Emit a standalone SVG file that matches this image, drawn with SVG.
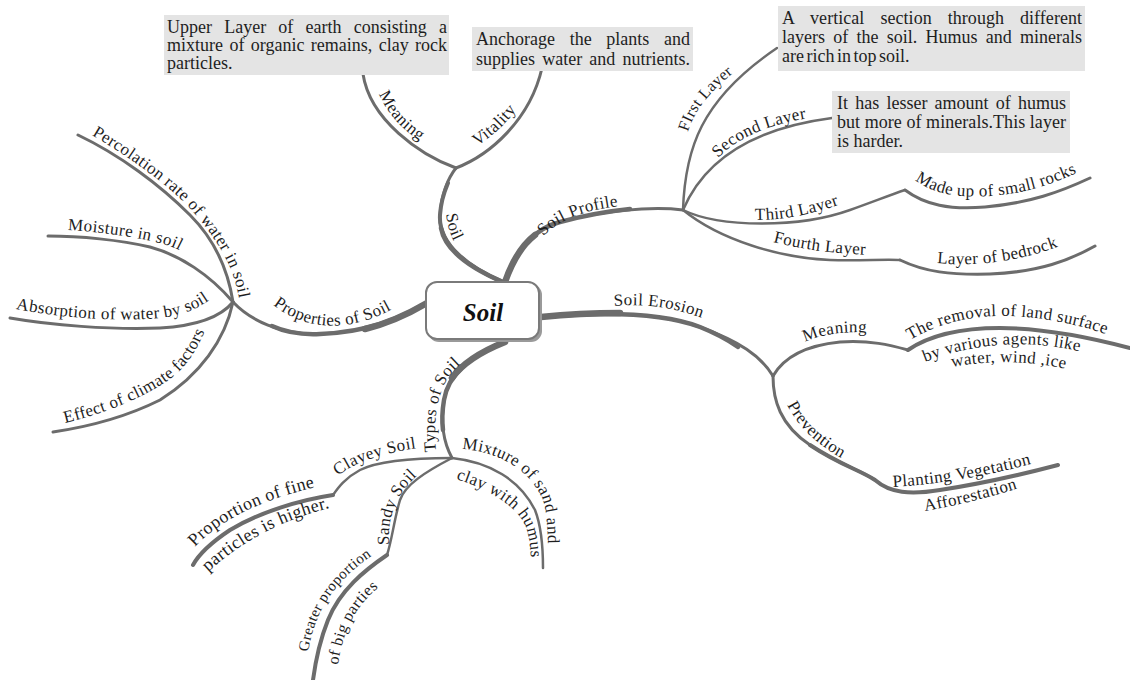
<svg xmlns="http://www.w3.org/2000/svg" width="1130" height="680" viewBox="0 0 1130 680">
<style>
.br{fill:none;stroke:#6c6c6c;stroke-linecap:round;stroke-linejoin:round}
.w7{stroke-width:6.5}.w6{stroke-width:5.5}.w5{stroke-width:4.5}.w4{stroke-width:4}.w3{stroke-width:3}.w2{stroke-width:2.5}
.box{fill:#e4e4e4}
.bt{font-family:"Liberation Serif",serif;font-size:18px;fill:#1e1e1e}
.lb{font-family:"Liberation Serif",serif;font-size:17px;fill:#1e1e1e;letter-spacing:0.4px}
</style>
<defs>
<path id="t-soil" d="M446,214 C448,230 452,242 465,258"/>
<path id="t-meaning1" d="M379,94 C388,115 405,135 442,154"/>
<path id="t-vitality" d="M477,146 C495,135 512,118 528,94"/>
<path id="t-profile" d="M543,236 C565,215 595,207 642,204"/>
<path id="t-first" d="M688,132 C695,108 712,88 750,60"/>
<path id="t-second" d="M718,158 C740,135 775,122 828,115"/>
<path id="t-third" d="M755,220 C790,220 820,212 852,200"/>
<path id="t-rocks" d="M915,180 C935,195 960,198 990,196 C1030,193 1055,183 1088,168"/>
<path id="t-fourth" d="M773,242 Q820,254 878,255"/>
<path id="t-bedrock" d="M937,263 C975,267 1020,262 1068,243"/>
<path id="t-erosion" d="M614,306 C650,303 680,309 710,321"/>
<path id="t-meaning2" d="M805,342 C825,333 850,330 885,334"/>
<path id="t-removal" d="M910,340 C940,322 975,315 1010,316 C1055,318 1090,328 1124,340"/>
<path id="t-agents" d="M925,362 C960,348 1000,342 1040,345 C1060,347 1075,350 1095,355"/>
<path id="t-water" d="M952,367 C990,360 1030,360 1076,371"/>
<path id="t-prevention" d="M787,405 C800,430 820,448 858,467"/>
<path id="t-planting" d="M893,487 C940,484 990,476 1045,460"/>
<path id="t-afforest" d="M925,511 C960,505 995,496 1028,485"/>
<path id="t-properties" d="M273,305 C295,322 320,328 345,325 C365,322 385,315 402,303"/>
<path id="t-perc" d="M92,135 C130,158 175,188 200,220 C220,245 238,272 241,314"/>
<path id="t-moist" d="M68,230 C100,232 140,237 170,246 C178,249 183,252 192,258"/>
<path id="t-absorb" d="M16,309 C60,318 120,322 160,318 C185,315 200,308 218,294"/>
<path id="t-effect" d="M65,423 C110,412 150,395 175,375 C190,362 200,345 210,318"/>
<path id="t-types" d="M436,452 C433,420 437,395 448,378 C452,372 460,364 470,356"/>
<path id="t-clayey" d="M338,476 C355,462 385,452 425,447"/>
<path id="t-fine" d="M195,547 C220,520 260,500 320,486"/>
<path id="t-particles" d="M208,572 C243,540 285,518 338,506"/>
<path id="t-sandy" d="M389,545 C388,520 392,497 422,471"/>
<path id="t-greater" d="M308,652 C315,610 335,580 376,553"/>
<path id="t-big" d="M338,665 C343,630 355,605 384,583"/>
<path id="t-mixture" d="M462,449 C500,452 530,470 543,500 C548,515 548,540 548,565"/>
<path id="t-clay" d="M456,479 C490,490 515,505 525,525 C531,540 531,555 531,574"/>
</defs>

<g id="connectors">
<path class="br w3" d="M503,282 C470,268 438,245 440,215 C441,195 448,178 456,168"/>
<path class="br w4" d="M503,282 C470,268 438,245 440,215 C441,200 445,190 448,183"/>
<path class="br w5" d="M503,282 C470,268 445,250 441,228"/>
<path class="br w3" d="M456,168 C420,155 370,120 363,74"/>
<path class="br w3" d="M456,168 C490,155 530,120 542,68"/>
<path class="br w3" d="M505,282 C515,250 535,228 560,222 C600,211 650,206 683,210"/>
<path class="br w5" d="M505,282 C515,250 535,228 560,222 C590,214 610,211 630,209"/>
<path class="br w7" d="M505,282 C512,262 522,245 535,235"/>
<path class="br w2" d="M683,210 C685,150 700,100 777,48"/>
<path class="br w2" d="M683,210 C700,170 740,130 832,118"/>
<path class="br w2" d="M683,210 C720,228 800,228 850,210 C870,203 890,195 905,190"/>
<path class="br w3" d="M905,190 C925,205 950,210 985,207 C1030,203 1060,192 1090,178"/>
<path class="br w2" d="M683,210 C720,240 780,258 830,260 C860,261 885,259 900,260"/>
<path class="br w3" d="M900,260 C925,272 950,275 990,274 C1040,272 1070,260 1095,246"/>
<path class="br w3" d="M541,317 C600,312 660,312 700,327 C740,342 760,355 773,376"/>
<path class="br w5" d="M541,317 C600,312 660,312 700,327 C715,333 728,340 738,347"/>
<path class="br w7" d="M541,317 C570,314 595,313 620,313"/>
<path class="br w3" d="M773,376 C785,355 810,345 840,342 C870,340 890,345 908,350"/>
<path class="br w4" d="M908,350 C930,335 960,328 1000,328 C1050,328 1100,340 1130,348"/>
<path class="br w3" d="M773,376 C773,400 780,425 810,445 C840,465 860,470 875,480"/>
<path class="br w4" d="M810,445 C840,465 860,470 875,480 C890,493 910,495 940,490 C980,484 1020,475 1058,465"/>
<path class="br w3" d="M427,303 C400,318 370,332 320,334 C280,335 250,320 233,302"/>
<path class="br w5" d="M427,303 C400,318 370,332 320,334 C300,335 285,332 272,326"/>
<path class="br w7" d="M427,303 C410,313 390,323 365,329"/>
<path class="br w3" d="M233,302 C228,270 215,240 190,215 C160,185 120,155 78,135"/>
<path class="br w3" d="M233,302 C210,275 180,255 150,247 C120,240 80,236 48,236"/>
<path class="br w3" d="M233,302 C220,318 195,326 160,328 C110,330 50,325 10,318"/>
<path class="br w3" d="M233,302 C225,340 200,375 160,400 C120,420 80,428 53,432"/>
<path class="br w3" d="M505,342 C470,355 448,375 444,400 C440,425 445,445 452,458"/>
<path class="br w5" d="M505,342 C470,355 448,375 444,400 C442,412 442,422 443,430"/>
<path class="br w7" d="M505,342 C480,352 462,364 452,378"/>
<path class="br w2" d="M452,458 C420,458 380,460 360,470 C345,478 338,488 333,495"/>
<path class="br w4" d="M333,495 C300,500 260,512 230,530 C215,540 200,552 193,565"/>
<path class="br w2" d="M452,458 C425,472 405,485 400,500 C394,520 392,540 387,555"/>
<path class="br w4" d="M387,555 C365,570 340,590 328,620 C318,645 315,665 313,680"/>
<path class="br w2" d="M452,458 C490,462 520,480 535,510 C542,528 543,550 543,568"/>
</g>

<g id="node-soil-center">
<rect x="428" y="284" width="114" height="58" rx="11" fill="#9a9a9a"/>
<rect x="426" y="282" width="113" height="57" rx="11" fill="#fff" stroke="#7a7a7a" stroke-width="2"/>
<text x="483" y="321" text-anchor="middle" font-family="Liberation Serif, serif" font-size="25" font-weight="bold" font-style="italic" fill="#111">Soil</text>
</g>

<g id="node-box-meaning">
<rect class="box" x="164" y="15" width="285" height="60"/>
<text class="bt" x="167" y="33" word-spacing="7.7" textLength="280" lengthAdjust="spacing">Upper Layer of earth consisting a</text>
<text class="bt" x="167" y="51" word-spacing="1.8" textLength="280" lengthAdjust="spacing">mixture of organic remains, clay rock</text>
<text class="bt" x="167" y="69">particles.</text>
</g>

<g id="node-box-vitality">
<rect class="box" x="472" y="27" width="221" height="44"/>
<text class="bt" x="476" y="45" word-spacing="10.2" textLength="214" lengthAdjust="spacing">Anchorage the plants and</text>
<text class="bt" x="476" y="65" word-spacing="2.7" textLength="214" lengthAdjust="spacing">supplies water and nutrients.</text>
</g>

<g id="node-box-first">
<rect class="box" x="778" y="6" width="307" height="65"/>
<text class="bt" x="782" y="24" word-spacing="11.5" textLength="300" lengthAdjust="spacing">A vertical section through different</text>
<text class="bt" x="782" y="43" word-spacing="3.7" textLength="300" lengthAdjust="spacing">layers of the soil. Humus and minerals</text>
<text class="bt" x="782" y="62" word-spacing="-2">are rich in top soil.</text>
</g>

<g id="node-box-second">
<rect class="box" x="832" y="91" width="238" height="62"/>
<text class="bt" x="837" y="109" word-spacing="2.7" textLength="229" lengthAdjust="spacing">It has lesser amount of humus</text>
<text class="bt" x="837" y="128" textLength="229" lengthAdjust="spacing">but more of minerals.This layer</text>
<text class="bt" x="837" y="147">is harder.</text>
</g>

<g id="node-labels-soil">
<text class="lb"><textPath href="#t-soil">Soil</textPath></text>
<text class="lb"><textPath href="#t-meaning1">Meaning</textPath></text>
<text class="lb"><textPath href="#t-vitality">Vitality</textPath></text>
</g>

<g id="node-labels-profile">
<text class="lb"><textPath href="#t-profile">Soil Profile</textPath></text>
<text class="lb" style="font-size:16px"><textPath href="#t-first">FIrst Layer</textPath></text>
<text class="lb"><textPath href="#t-second">Second Layer</textPath></text>
<text class="lb"><textPath href="#t-third">Third Layer</textPath></text>
<text class="lb"><textPath href="#t-rocks">Made up of small rocks</textPath></text>
<text class="lb"><textPath href="#t-fourth">Fourth Layer</textPath></text>
<text class="lb"><textPath href="#t-bedrock">Layer of bedrock</textPath></text>
</g>

<g id="node-labels-erosion">
<text class="lb"><textPath href="#t-erosion">Soil Erosion</textPath></text>
<text class="lb"><textPath href="#t-meaning2">Meaning</textPath></text>
<text class="lb"><textPath href="#t-removal">The removal of land surface</textPath></text>
<text class="lb"><textPath href="#t-agents">by various agents like</textPath></text>
<text class="lb"><textPath href="#t-water">water, wind ,ice</textPath></text>
<text class="lb"><textPath href="#t-prevention">Prevention</textPath></text>
<text class="lb"><textPath href="#t-planting">Planting Vegetation</textPath></text>
<text class="lb"><textPath href="#t-afforest">Afforestation</textPath></text>
</g>

<g id="node-labels-properties">
<text class="lb"><textPath href="#t-properties">Properties of Soil</textPath></text>
<text class="lb"><textPath href="#t-perc">Percolation rate of water in soil</textPath></text>
<text class="lb"><textPath href="#t-moist">Moisture in soil</textPath></text>
<text class="lb"><textPath href="#t-absorb">Absorption of water by soil</textPath></text>
<text class="lb"><textPath href="#t-effect">Effect of climate factors</textPath></text>
</g>

<g id="node-labels-types">
<text class="lb"><textPath href="#t-types">Types of Soil</textPath></text>
<text class="lb"><textPath href="#t-clayey">Clayey Soil</textPath></text>
<text class="lb" style="font-size:18px"><textPath href="#t-fine">Proportion of fine</textPath></text>
<text class="lb" style="font-size:18px"><textPath href="#t-particles">particles is higher.</textPath></text>
<text class="lb"><textPath href="#t-sandy">Sandy Soil</textPath></text>
<text class="lb" style="font-size:15px"><textPath href="#t-greater">Greater proportion</textPath></text>
<text class="lb" style="font-size:16px"><textPath href="#t-big">of big parties</textPath></text>
<text class="lb"><textPath href="#t-mixture">Mixture of sand and</textPath></text>
<text class="lb"><textPath href="#t-clay">clay with humus</textPath></text>
</g>
</svg>
